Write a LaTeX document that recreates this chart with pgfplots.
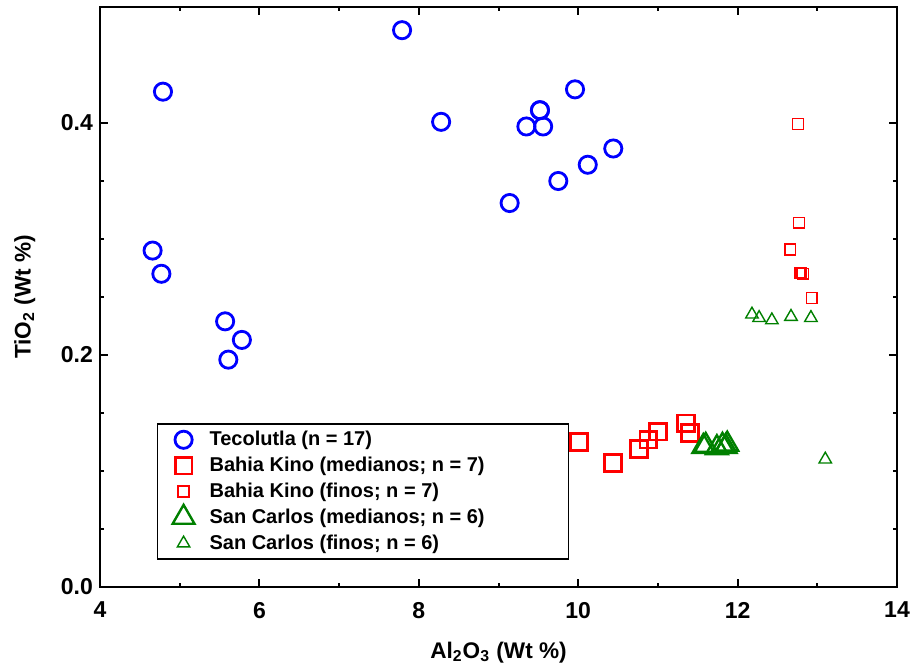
\documentclass[border=0pt]{standalone}
\usepackage{fontspec}
\setmainfont{Liberation Sans}
\usepackage{pgfplots}
\pgfplotsset{compat=1.18}
\definecolor{cblue}{RGB}{0,0,255}
\definecolor{cred}{RGB}{255,0,0}
\definecolor{cgreen}{RGB}{0,128,0}
\begin{document}
\begin{tikzpicture}
\begin{axis}[
 scale only axis, width=398.5pt, height=290pt,
 xmin=4, xmax=14, ymin=0, ymax=0.5,
 xtick={4,6,...,14}, ytick={0,0.2,0.4},
 minor x tick num=1, minor y tick num=3,
 yticklabel style={/pgf/number format/.cd, fixed, fixed zerofill, precision=1},
 /pgf/number format/assume math mode=true,
 tick label style={font=\fontsize{11.5}{13}\selectfont\bfseries},
 xticklabel style={yshift=-4pt},
 major tick length=4pt, minor tick length=2pt,
 every tick/.style={black, line width=1pt},
 axis line style={line width=1.4pt},
 xlabel={Al\textsubscript{2}O\textsubscript{3} (Wt \%)},
 ylabel={TiO\textsubscript{2} (Wt \%)},
 label style={font=\fontsize{11.3}{13}\selectfont\bfseries},
 xlabel style={yshift=-5pt},
 ylabel style={yshift=6pt},
 legend style={at={(0.0715,0.282)}, anchor=north west, draw=black, line width=0.6pt,
   font=\fontsize{10}{12}\selectfont\bfseries, row sep=0.2pt, inner xsep=4pt, inner ysep=1.5pt},
 legend cell align=left,
 legend image code/.code={\path[draw=none,fill=none] (0pt,0pt) rectangle (20pt,0pt); \draw[#1] plot coordinates {(9pt,0pt)};},
]
\addplot[only marks, mark=o, mark size=4.3pt, color=cblue, line width=1.4pt] coordinates {
(7.79,0.480) (4.79,0.427) (8.28,0.401) (9.52,0.411) (9.35,0.397) (9.56,0.397)
(9.96,0.429) (9.75,0.350) (10.12,0.364) (10.44,0.378) (9.14,0.331) (4.66,0.290)
(4.77,0.270) (5.57,0.229) (5.78,0.213) (5.61,0.196) (9.52,0.411)};
\addlegendentry{Tecolutla (n = 17)}
\addplot[only marks, mark=square, mark size=4.2pt, color=cred, line width=1.4pt] coordinates {
(10.01,0.125) (10.44,0.107) (10.76,0.119) (10.88,0.127) (11.00,0.134) (11.35,0.141) (11.40,0.133)};
\addlegendentry{Bahia Kino (medianos; n = 7)\rule{36pt}{0pt}}
\addplot[only marks, mark=square, mark size=2.7pt, color=cred, line width=0.7pt] coordinates {
(12.76,0.399) (12.77,0.314) (12.66,0.291) (12.78,0.271) (12.82,0.270) (12.93,0.249) (12.80,0.271)};
\addlegendentry{Bahia Kino (finos; n = 7)}
\addplot[only marks, mark=triangle, mark size=6.3pt, color=cgreen, line width=1.2pt] coordinates {
(11.57,0.121) (11.60,0.122) (11.74,0.120) (11.81,0.122) (11.85,0.121) (11.87,0.123)};
\addlegendentry{San Carlos (medianos; n = 6)\rule{36pt}{0pt}}
\addplot[only marks, mark=triangle, mark size=3.6pt, color=cgreen, line width=0.7pt] coordinates {
(12.18,0.235) (12.27,0.232) (12.43,0.230) (12.67,0.233) (12.92,0.232) (13.10,0.110)};
\addlegendentry{San Carlos (finos; n = 6)}
\end{axis}
\path (current axis.south west) ++(-50pt,-41.5pt) coordinate (bbA);
\path (current axis.north east) ++(9pt,3.5pt) coordinate (bbB);
\pgfresetboundingbox
\path[use as bounding box] (bbA) rectangle (bbB);
\end{tikzpicture}
\end{document}
